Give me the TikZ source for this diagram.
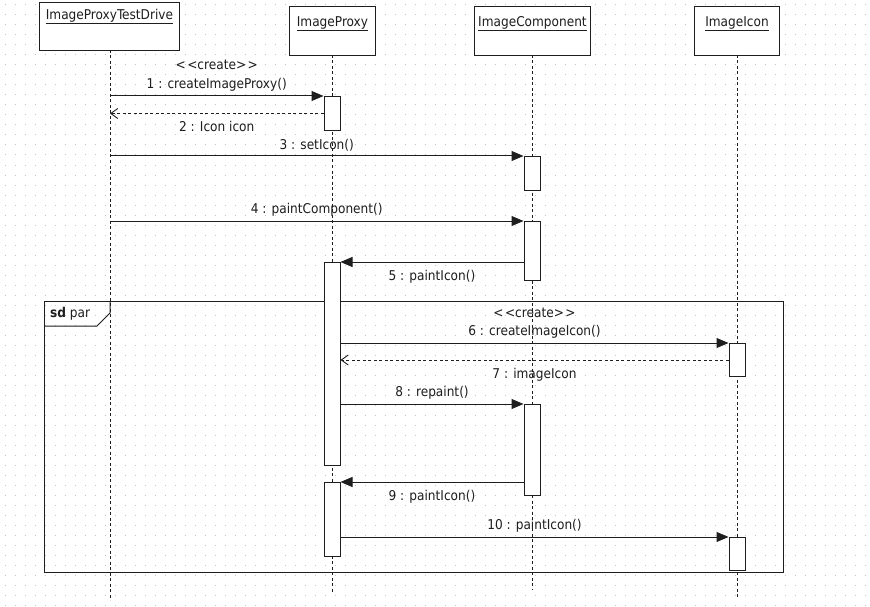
\documentclass[tikz,border=0pt]{standalone}
\usepackage{fontspec}
\setmainfont{DejaVu Sans Condensed}
\usetikzlibrary{arrows.meta,calc}
\definecolor{ink}{HTML}{1E1E1E}
\definecolor{dotc}{HTML}{C4C4C4}
\newcommand{\stereo}[1]{<\kern1.5pt<#1>\kern1.5pt>}
\tikzset{
  headbox/.style={draw=ink, line width=1pt, fill=white, inner sep=0pt, anchor=north west},
  headtext/.style={anchor=north, inner sep=0pt, text=ink},
  lifeline/.style={draw=ink, line width=0.9pt, dash pattern=on 3pt off 2.5pt},
  actbox/.style={draw=ink, line width=1pt, fill=white, minimum width=16pt, inner sep=0pt, anchor=north},
  callmsg/.style={draw=ink, line width=1pt, -{Triangle[length=12pt,width=10pt]}},
  retmsg/.style={draw=ink, line width=0.9pt, dash pattern=on 3pt off 2.5pt, -{Straight Barb[length=7pt,width=10pt]}},
  lbl/.style={text=ink, inner sep=2pt},
  lblabove/.style={lbl, anchor=south, yshift=2.5pt},
  lblbelow/.style={lbl, anchor=north, yshift=-5.5pt},
  framebox/.style={draw=ink, line width=1pt}
}
\begin{document}
\begin{tikzpicture}[x=1pt,y=-1pt,font=\fontsize{13.5}{15}\selectfont]
\useasboundingbox (0,0) rectangle (870,607);
\fill[white] (0,0) rectangle (870,607);
% dot grid
\foreach \yy in {5,15,...,605}
  \draw[dotc, line width=1pt, dash pattern=on 1pt off 9pt, dash phase=-4.5pt] (0,\yy) -- (870,\yy);

% heads
\node[headbox, minimum width=140pt, minimum height=48pt] (td) at (39,2) {};
\node[headtext] (tdt) at ($(td.north)+(0,7)$) {\underline{ImageProxyTestDrive}};
\node[headbox, minimum width=86pt, minimum height=49pt] (ip) at (289,6) {};
\node[headtext] (ipt) at ($(ip.north)+(0,10)$) {\underline{ImageProxy}};
\node[headbox, minimum width=116pt, minimum height=49pt] (ic) at (474,6) {};
\node[headtext] (ict) at ($(ic.north)+(0,10)$) {\underline{ImageComponent}};
\node[headbox, minimum width=85pt, minimum height=49pt] (ii) at (694,6) {};
\node[headtext] (iit) at ($(ii.north)+(0,10)$) {\underline{ImageIcon}};

% lifelines
\coordinate (tdl) at (110,50);
\coordinate (ipl) at (332,55);
\coordinate (icl) at (532,55);
\coordinate (iil) at (737,55);
\coordinate (tde) at (110,600);
\coordinate (ipe) at (332,592);
\coordinate (ice) at (532,590);
\coordinate (iie) at (737,599);
\draw[lifeline] (tdl) -- (tde);
\draw[lifeline] (ipl) -- (ipe);
\draw[lifeline] (icl) -- (ice);
\draw[lifeline] (iil) -- (iie);

% frame
\draw[framebox] (44,301) rectangle (783,572);
\draw[framebox] (44,326) -- (97,326) -- (110,313) -- (110,301);
\node[anchor=west, text=ink, inner sep=0pt] (sd) at (50,314) {\textbf{sd} par};

% activations
\node[actbox, minimum height=34pt] (a1) at (332,96) {};
\node[actbox, minimum height=34pt] (b1) at (532,156) {};
\node[actbox, minimum height=59pt] (b2) at (532,221) {};
\node[actbox, minimum height=203pt] (a2) at (332,262) {};
\node[actbox, minimum height=33pt] (c1) at (737,343) {};
\node[actbox, minimum height=91pt] (b3) at (532,404) {};
\node[actbox, minimum height=74pt] (a3) at (332,482) {};
\node[actbox, minimum height=33pt] (c2) at (737,537) {};

% messages
\draw[callmsg] (tdl |- a1.north) -- node[lblabove] (m1) {1 : createImageProxy()} (a1.north west);
\node[lbl, anchor=south] (m1s) at ($(m1.north)+(0,-4)$) {\stereo{create}};
\draw[retmsg] (a1.west) -- node[lblbelow] (m2) {2 : Icon icon} (tdl |- a1.west);
\draw[callmsg] (tdl |- b1.north) -- node[lblabove] (m3) {3 : setIcon()} (b1.north west);
\draw[callmsg] (tdl |- b2.north) -- node[lblabove] (m4) {4 : paintComponent()} (b2.north west);
\draw[callmsg] (b2.west |- a2.north) -- node[lblbelow] (m5) {5 : paintIcon()} (a2.north east);
\draw[callmsg] (a2.east |- c1.north) -- node[lblabove] (m6) {6 : createImageIcon()} (c1.north west);
\node[lbl, anchor=south] (m6s) at ($(m6.north)+(0,-3)$) {\stereo{create}};
\draw[retmsg] (c1.west) -- node[lblbelow] (m7) {7 : imageIcon} (a2.east |- c1.west);
\draw[callmsg] (a2.east |- b3.north) -- node[lblabove] (m8) {8 : repaint()} (b3.north west);
\draw[callmsg] (b3.west |- a3.north) -- node[lblbelow] (m9) {9 : paintIcon()} (a3.north east);
\draw[callmsg] (a3.east |- c2.north) -- node[lblabove] (m10) {10 : paintIcon()} (c2.north west);
\end{tikzpicture}
\end{document}
